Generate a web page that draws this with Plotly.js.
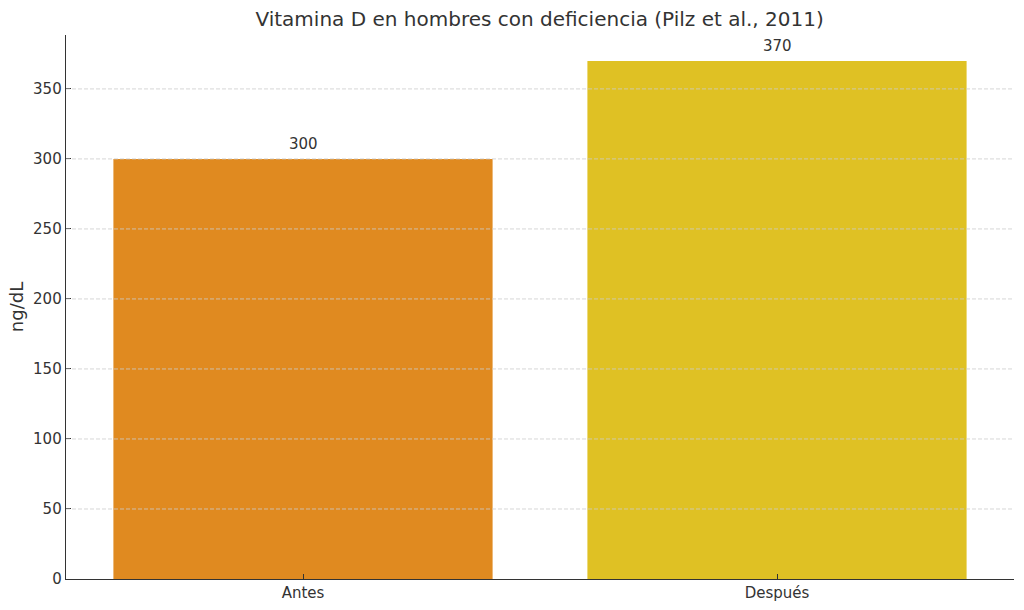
<!DOCTYPE html>
<html>
<head>
<meta charset="utf-8">
<script src="https://cdn.plot.ly/plotly-3.0.1.min.js"></script>
<style>body{margin:0;background:#fff}</style>
</head>
<body>
<div id="chart" style="width:1024px;height:610px"></div>
<script>
var categories = ['Antes', 'Después'];
var values = [300, 370];
var barColors = ['#E08A20', '#DFC124'];
var yTicks = [0, 50, 100, 150, 200, 250, 300, 350];

var trace = {
  x: categories,
  y: values,
  type: 'bar',
  width: 0.8,
  marker: {color: barColors},
  hoverinfo: 'none'
};

// dashed grid drawn over the bars, as in the original
var gridShapes = yTicks.filter(function (v) { return v > 0; }).map(function (v) {
  return {
    type: 'line', xref: 'paper', yref: 'y', layer: 'above',
    x0: 0, x1: 1, y0: v, y1: v,
    line: {color: '#cccccc', width: 0.8, dash: '4px,2px'}
  };
});

var labels = categories.map(function (c, i) {
  return {
    x: c, y: values[i], xref: 'x', yref: 'y',
    text: String(values[i]), showarrow: false,
    yanchor: 'bottom', yshift: 4,
    font: {family: 'DejaVu Sans', size: 15, color: '#333'}
  };
});

var layout = {
  width: 1024,
  height: 610,
  margin: {l: 66, r: 10, t: 35, b: 31},
  paper_bgcolor: '#fff',
  plot_bgcolor: '#fff',
  font: {family: 'DejaVu Sans', size: 15, color: '#333'},
  title: {
    text: 'Vitamina D en hombres con deficiencia (Pilz et al., 2011)',
    font: {size: 20, color: '#333'},
    x: 0.527, xanchor: 'center', y: 0.969, yanchor: 'middle'
  },
  showlegend: false,
  shapes: gridShapes,
  annotations: labels,
  xaxis: {
    range: [-0.5, 1.5],
    showline: true, linecolor: '#333', linewidth: 1.3,
    ticks: 'inside', ticklen: 5, tickcolor: '#333',
    showgrid: false, zeroline: false,
    tickfont: {size: 15, color: '#333'}
  },
  yaxis: {
    range: [0, 388.5],
    tickvals: yTicks,
    showline: true, linecolor: '#333', linewidth: 1.3,
    ticks: 'inside', ticklen: 5, tickcolor: '#333',
    showgrid: false, zeroline: false,
    layer: 'above traces',
    tickfont: {size: 15, color: '#333'},
    title: {text: 'ng/dL', font: {size: 18, color: '#333'}, standoff: 4}
  }
};

Plotly.newPlot('chart', [trace], layout, {staticPlot: true});
</script>
</body>
</html>
